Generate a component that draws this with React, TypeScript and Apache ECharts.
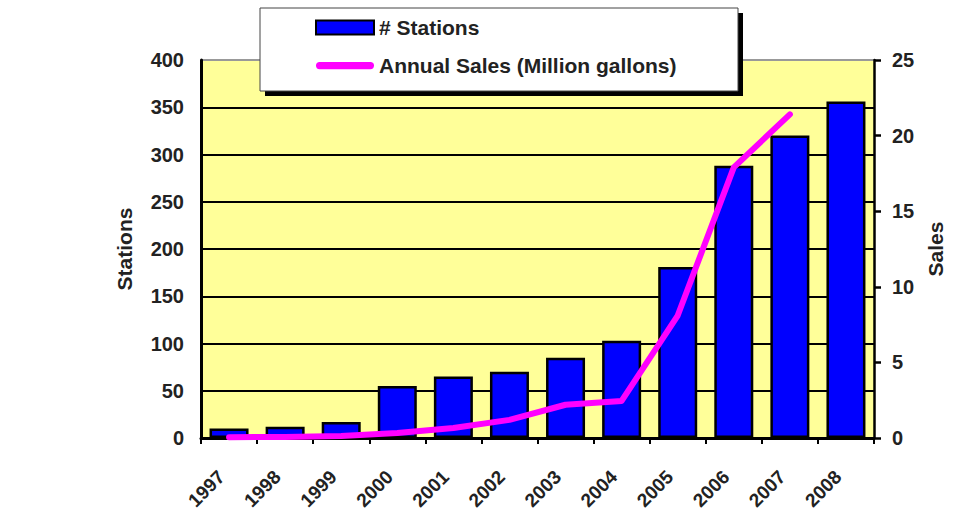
import React, { useEffect, useRef } from "react";
import * as echarts from "echarts";

const years = ["1997", "1998", "1999", "2000", "2001", "2002", "2003", "2004", "2005", "2006", "2007", "2008"];
const stations = [10, 12, 17, 55, 65, 70, 85, 103, 181, 288, 320, 356];
const sales: (number | null)[] = [0.05, 0.07, 0.13, 0.33, 0.66, 1.2, 2.2, 2.45, 8.1, 17.9, 21.4, null];

const FONT = "'Liberation Sans', Arial, sans-serif";
const LINE_ICON = "path://M4,0 L60,0 A4,4 0 0 1 60,8 L4,8 A4,4 0 0 1 4,0 Z";

export default function App() {
  const ref = useRef<HTMLDivElement>(null);
  useEffect(() => {
    if (!ref.current) return;
    const chart = echarts.init(ref.current, undefined, { renderer: "svg" });
    chart.setOption({
      animation: false,
      backgroundColor: "#ffffff",
      textStyle: { fontFamily: FONT },
      grid: {
        left: 201,
        top: 60,
        width: 673,
        height: 378,
        show: true,
        backgroundColor: "#FFFF99",
        borderWidth: 0,
        containLabel: false,
        outerBoundsMode: "none",
      },
      legend: {
        orient: "vertical",
        left: 310,
        top: 12,
        itemWidth: 58,
        itemHeight: 14,
        itemGap: 17,
        z: 10,
        textStyle: { fontFamily: FONT, fontSize: 21, fontWeight: "bold", color: "#222" },
        data: [
          { name: "# Stations", icon: "rect" },
          { name: "Annual Sales (Million gallons)", icon: LINE_ICON, itemStyle: { color: "#FF00FF", borderWidth: 0 } },
        ],
      },
      graphic: [
        { type: "rect", z: 9, shape: { x: 265, y: 13, width: 478, height: 83 }, style: { fill: "#000" } },
        { type: "rect", z: 9, shape: { x: 260, y: 8, width: 478, height: 83 }, style: { fill: "#fff", stroke: "#444", lineWidth: 1 } },
      ],
      xAxis: {
        type: "category",
        data: years,
        axisLine: { lineStyle: { color: "#000", width: 3 } },
        axisTick: { show: true, length: 6, lineStyle: { color: "#000", width: 2 } },
        axisLabel: {
          rotate: 45,
          interval: 0,
          margin: 28,
          padding: [0, 11, 0, 0],
          fontFamily: FONT,
          fontSize: 19,
          fontWeight: "bold",
          color: "#222",
        },
      },
      yAxis: [
        {
          type: "value",
          min: 0,
          max: 400,
          interval: 50,
          name: "Stations",
          nameLocation: "middle",
          nameRotate: 90,
          nameGap: 66,
          nameTextStyle: { fontFamily: FONT, fontSize: 21, fontWeight: "bold", color: "#222" },
          axisLine: { show: true, lineStyle: { color: "#000", width: 3 } },
          axisTick: { show: false },
          splitLine: {
            show: true,
            lineStyle: { color: ["#000", "#000", "#000", "#000", "#000", "#000", "#000", "#000", "#999"], width: 2 },
          },
          axisLabel: { margin: 17, fontFamily: FONT, fontSize: 20, fontWeight: "bold", color: "#222" },
        },
        {
          type: "value",
          min: 0,
          max: 25,
          interval: 5,
          position: "right",
          name: "Sales",
          nameLocation: "middle",
          nameRotate: 90,
          nameGap: 51,
          nameTextStyle: { fontFamily: FONT, fontSize: 21, fontWeight: "bold", color: "#222" },
          axisLine: { show: true, lineStyle: { color: "#000", width: 2.5 } },
          axisTick: { show: true, inside: false, length: 7, lineStyle: { color: "#000", width: 2.5 } },
          splitLine: { show: false },
          axisLabel: { margin: 18, fontFamily: FONT, fontSize: 20, fontWeight: "bold", color: "#222" },
        },
      ],
      series: [
        {
          name: "# Stations",
          type: "bar",
          data: stations,
          barWidth: 39,
          yAxisIndex: 0,
          itemStyle: { color: "#0000FF", borderColor: "#000", borderWidth: 2.5 },
          z: 2,
        },
        {
          name: "Annual Sales (Million gallons)",
          type: "line",
          data: sales,
          yAxisIndex: 1,
          symbol: "none",
          lineStyle: { color: "#FF00FF", width: 6, cap: "round", join: "round" },
          itemStyle: { color: "#FF00FF" },
          z: 3,
        },
      ],
    });
    return () => chart.dispose();
  }, []);
  return (
    <div
      ref={ref}
      style={{ position: "absolute", left: 0, top: 0, width: 957, height: 517 }}
    />
  );
}
